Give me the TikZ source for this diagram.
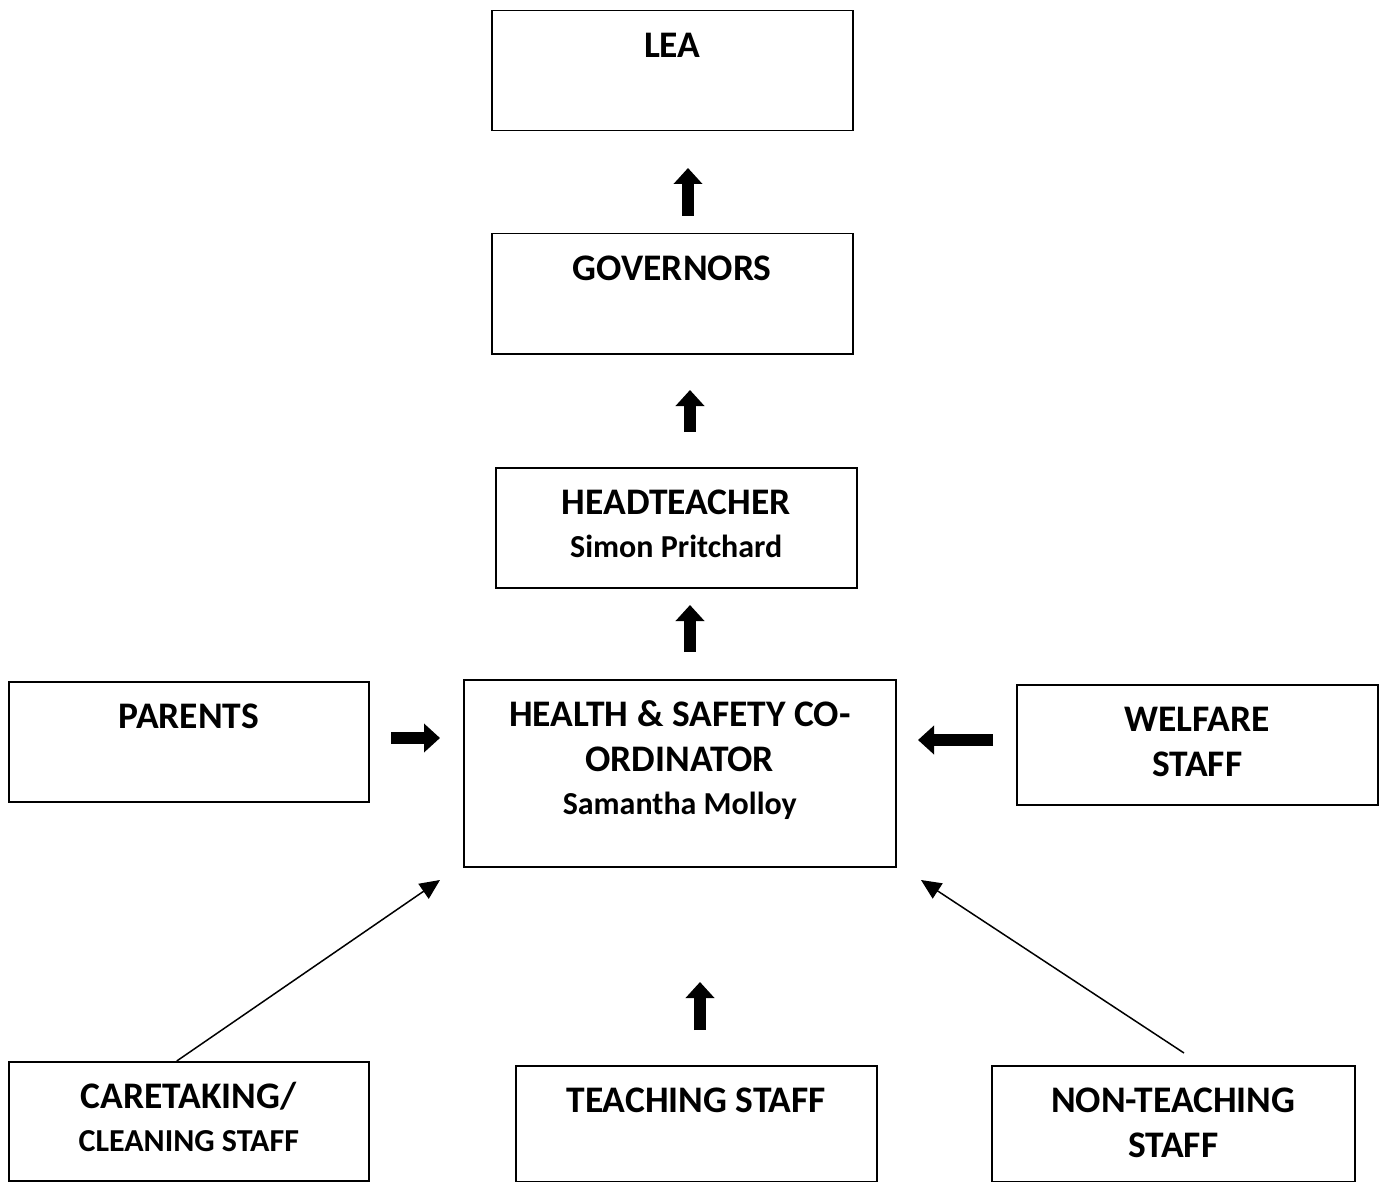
\documentclass[tikz,border=0pt]{standalone}
\usepackage{fontspec}
\setmainfont{Carlito}
\usetikzlibrary{arrows.meta}
\newcommand{\bx}[3]{\parbox[c][#2pt][t]{#1pt}{\centering\rule{0pt}{47pt}#3\par}}
\newcommand{\sm}[1]{{\fontsize{32}{38}\selectfont #1}}
\begin{document}
\begin{tikzpicture}[x=1pt,y=-1pt,
  box/.style={draw, line width=1.5pt, inner sep=0pt, anchor=north west,
    font=\bfseries\fontsize{37.5}{45}\selectfont},
  blockarrow/.style={line width=12pt, -{Triangle[width=28pt,length=16pt]}},
  thinarrow/.style={line width=1.5pt, -{Triangle[width=18pt,length=20pt]}}]
\useasboundingbox (0,0) rectangle (1387,1182);

\node[box] (lea) at (491,10) {\bx{361}{120}{LEA}};
\node[box] (gov) at (491,233) {\bx{361}{120}{GOVERNORS}};
\node[box] (head) at (495,467) {\bx{361}{120}{HEADTEACHER\\[-2pt]\sm{Simon Pritchard}}};
\node[box] (parents) at (8,681) {\bx{360}{120}{PARENTS}};
\node[box] (hs) at (463,679) {\bx{432}{187}{HEALTH \& SAFETY CO-\\ORDINATOR\\[-2pt]\sm{Samantha Molloy}}};
\node[box] (welfare) at (1016,684) {\bx{361}{120}{WELFARE\\STAFF}};
\node[box] (care) at (8,1061) {\bx{360}{119}{CARETAKING/\\[-2pt]\sm{CLEANING STAFF}}};
\node[box] (teach) at (515,1065) {\bx{361}{116}{TEACHING STAFF}};
\node[box] (nonteach) at (991,1065) {\bx{363}{116}{NON-TEACHING\\STAFF}};

% block arrows
\coordinate (a1s) at (688,216); \coordinate (a1e) at (688,168);
\coordinate (a2s) at (690,432); \coordinate (a2e) at (690,390);
\coordinate (a3s) at (690,652); \coordinate (a3e) at (690,605);
\coordinate (a4s) at (391,738); \coordinate (a4e) at (440,738);
\coordinate (a5s) at (993,740); \coordinate (a5e) at (918,740);
\coordinate (a6s) at (700,1030); \coordinate (a6e) at (700,982);
\draw[blockarrow] (a1s) -- (a1e);
\draw[blockarrow] (a2s) -- (a2e);
\draw[blockarrow] (a3s) -- (a3e);
\draw[blockarrow] (a4s) -- (a4e);
\draw[blockarrow] (a5s) -- (a5e);
\draw[blockarrow] (a6s) -- (a6e);

% thin arrows
\coordinate (t1e) at (440,880);
\coordinate (t2s) at (1184,1053);
\coordinate (t2e) at (921,880);
\draw[thinarrow] ([xshift=-12pt]care.north) -- (t1e);
\draw[thinarrow] (t2s) -- (t2e);
\end{tikzpicture}
\end{document}
